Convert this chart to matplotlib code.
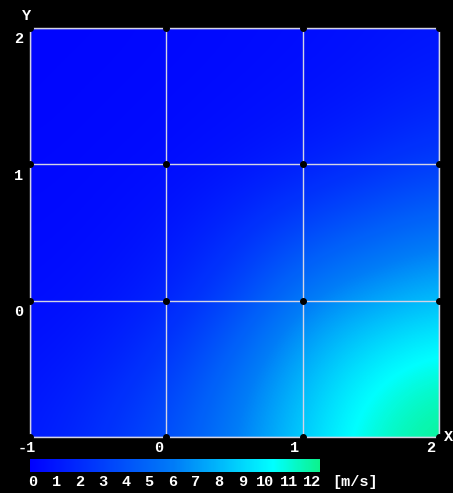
import numpy as np
import matplotlib
matplotlib.use("Agg")
import matplotlib.pyplot as plt
from matplotlib.colors import LinearSegmentedColormap, Normalize
from matplotlib.cm import ScalarMappable

# -------------------------------------------------------------------
# DATOS (valores en m/s)
# -------------------------------------------------------------------
X_NODOS = [-1.0, -0.5, 0.0, 0.5, 1.0, 1.5, 2.0]
Y_NODOS = [2.0, 1.5, 1.0, 0.5, 0.0, -0.5, -1.0]

vel_y2 = [0.3, 0.3, 0.4, 0.5, 0.6, 0.8, 1.0]
vel_y15 = [0.3, 0.4, 0.5, 0.6, 0.8, 1.1, 1.6]
vel_y1 = [0.4, 0.5, 0.6, 0.9, 1.4, 2.1, 2.9]
vel_y05 = [0.5, 0.6, 1.0, 2.0, 3.5, 4.6, 5.5]
vel_y0 = [0.6, 0.9, 1.6, 3.4, 6.0, 7.2, 8.1]
vel_ym05 = [0.9, 1.5, 2.8, 5.2, 7.7, 9.8, 10.8]
vel_ym1 = [1.2, 2.3, 3.8, 6.0, 8.6, 10.9, 12.0]

X_TICKS = [-1, 0, 1, 2]
Y_TICKS = [2, 1, 0]
CB_LABELS = ["0", "1", "2", "3", "4", "5", "6", "7", "8", "9", "10", "11", "12"]
CB_UNIDAD = "[m/s]"
VMIN, VMAX = 0, 12

FUENTE = ["Liberation Mono", "DejaVu Sans Mono"]
GRIS = "#d4d4e4"


def main():
    campo = np.array([vel_y2, vel_y15, vel_y1, vel_y05, vel_y0, vel_ym05, vel_ym1])

    cmap = LinearSegmentedColormap.from_list(
        "vel",
        [(0.0, (0, 0, 1)),
         (0.5, (0, 0.49, 0.97)),
         (0.84, (0, 1, 1)),
         (1.0, (0.05, 0.95, 0.55))],
    )
    norm = Normalize(VMIN, VMAX)

    fig = plt.figure(figsize=(4.53, 4.93), dpi=100, facecolor="black")
    ax = fig.add_axes([30 / 453, 56 / 493, 409 / 453, 409 / 493])
    ax.set_facecolor("black")

    dx = (X_NODOS[1] - X_NODOS[0]) / 2
    dy = (Y_NODOS[0] - Y_NODOS[1]) / 2
    ax.imshow(
        campo, cmap=cmap, norm=norm, interpolation="bicubic", origin="upper",
        extent=(X_NODOS[0] - dx, X_NODOS[-1] + dx, Y_NODOS[-1] - dy, Y_NODOS[0] + dy),
        aspect="auto",
    )
    ax.set_xlim(-1, 2)
    ax.set_ylim(-1, 2)

    # rejilla y puntos
    for v in X_TICKS:
        ax.axvline(v, color=GRIS, lw=1.0, zorder=3)
    for v in [-1] + Y_TICKS:
        ax.axhline(v, color=GRIS, lw=1.0, zorder=3)
    gx, gy = np.meshgrid(X_TICKS, [-1] + Y_TICKS)
    ax.plot(gx.ravel(), gy.ravel(), "o", color="black", ms=4, zorder=4, clip_on=False)

    for s in ax.spines.values():
        s.set_color(GRIS)
        s.set_linewidth(1.0)
    ax.set_xticks([])
    ax.set_yticks([])

    txt = dict(color="white", fontsize=11, fontweight="bold", family=FUENTE)
    for v in X_TICKS:
        ax.annotate(str(v), (v, -1), xytext=(-9, -3), textcoords="offset points",
                    ha="left", va="top", annotation_clip=False, **txt)
    for v in Y_TICKS:
        ax.annotate(str(v), (-1, v), xytext=(-5, -3), textcoords="offset points",
                    ha="right", va="top", annotation_clip=False, **txt)
    fig.text(27 / 453, 1 - 16 / 493, "Y", ha="center", va="center", **txt)
    fig.text(449 / 453, 1 - 437 / 493, "X", ha="center", va="center", **txt)

    # barra de color
    cax = fig.add_axes([30 / 453, 21 / 493, 290 / 453, 13 / 493])
    cb = fig.colorbar(ScalarMappable(norm=norm, cmap=cmap), cax=cax, orientation="horizontal")
    cb.outline.set_visible(False)
    cax.set_xticks([])

    x0, x1 = 33, 312
    for i, lab in enumerate(CB_LABELS):
        xp = x0 + i * (x1 - x0) / (len(CB_LABELS) - 1)
        fig.text(xp / 453, 1 - 482 / 493, lab, ha="center", va="center", **txt)
    fig.text(332 / 453, 1 - 482 / 493, CB_UNIDAD, ha="left", va="center", **txt)

    fig.savefig("out.png", dpi=100, facecolor="black")
    plt.close(fig)


if __name__ == "__main__":
    main()
